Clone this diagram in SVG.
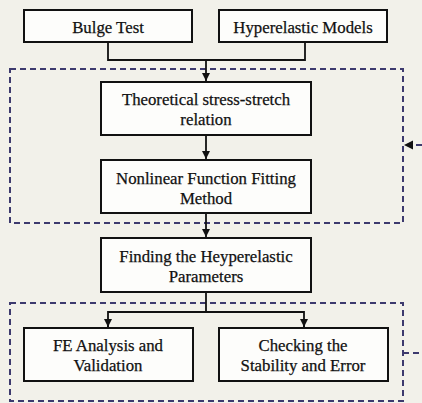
<svg xmlns="http://www.w3.org/2000/svg" width="422" height="403" viewBox="0 0 422 403">
<defs>
<marker id="ah" markerWidth="10" markerHeight="10" refX="9" refY="5" orient="auto" markerUnits="userSpaceOnUse">
<path d="M1,1 L9,5 L1,9 Z" fill="#111"/>
</marker>
<style>
.box{fill:#fdfdfb;stroke:#111;stroke-width:2}
.t{font-family:"Liberation Serif","Times New Roman",serif;font-size:16.8px;fill:#111;stroke:#111;stroke-width:0.25;text-anchor:middle}
.c{fill:none;stroke:#111;stroke-width:1.8}
.d{fill:none;stroke:#3d3a6e;stroke-width:2;stroke-dasharray:6 4}
</style>
</defs>
<rect width="422" height="403" fill="#f2f1ea"/>
<g id="groups">
<rect class="d" x="10" y="69" width="393" height="154"/>
<rect class="d" x="10" y="303" width="393" height="98"/>
</g>
<g id="connectors">
<polyline class="c" points="108,42 108,60 305,60 305,42"/>
<line class="c" x1="206" y1="60" x2="206" y2="81" marker-end="url(#ah)"/>
<line class="c" x1="206" y1="135" x2="206" y2="159" marker-end="url(#ah)"/>
<line class="c" x1="206" y1="213" x2="206" y2="237" marker-end="url(#ah)"/>
<polyline class="c" points="206,292 206,312"/>
<polyline class="c" points="108,327 108,312 304,312 304,327"/>
<line class="c" x1="108" y1="320" x2="108" y2="327" marker-end="url(#ah)"/>
<line class="c" x1="304" y1="320" x2="304" y2="327" marker-end="url(#ah)"/>
<line class="d" x1="422" y1="145" x2="405" y2="145"/>
<path d="M404,145 L413,140.5 L413,149.5 Z" fill="#111"/>
<line class="d" x1="403" y1="353" x2="422" y2="353"/>
</g>
<g id="bulge">
<rect class="box" x="24" y="10" width="168" height="32"/>
<text class="t" x="108" y="33">Bulge Test</text>
</g>
<g id="hyper">
<rect class="box" x="219" y="10" width="168" height="32"/>
<text class="t" x="303" y="33">Hyperelastic Models</text>
</g>
<g id="theoretical">
<rect class="box" x="101" y="82" width="210" height="53"/>
<text class="t" x="206" y="104.5">Theoretical stress-stretch</text>
<text class="t" x="206" y="125">relation</text>
</g>
<g id="nonlinear">
<rect class="box" x="101" y="160" width="210" height="53"/>
<text class="t" x="206" y="184">Nonlinear Function Fitting</text>
<text class="t" x="206" y="204">Method</text>
</g>
<g id="finding">
<rect class="box" x="101" y="238" width="210" height="54"/>
<text class="t" x="206" y="262">Finding the Heyperelastic</text>
<text class="t" x="206" y="282">Parameters</text>
</g>
<g id="fe">
<rect class="box" x="24" y="328" width="169" height="53"/>
<text class="t" x="108" y="351">FE Analysis and</text>
<text class="t" x="108" y="370.5">Validation</text>
</g>
<g id="checking">
<rect class="box" x="219" y="328" width="169" height="53"/>
<text class="t" x="303" y="351">Checking the</text>
<text class="t" x="303" y="370.5">Stability and Error</text>
</g>
</svg>
